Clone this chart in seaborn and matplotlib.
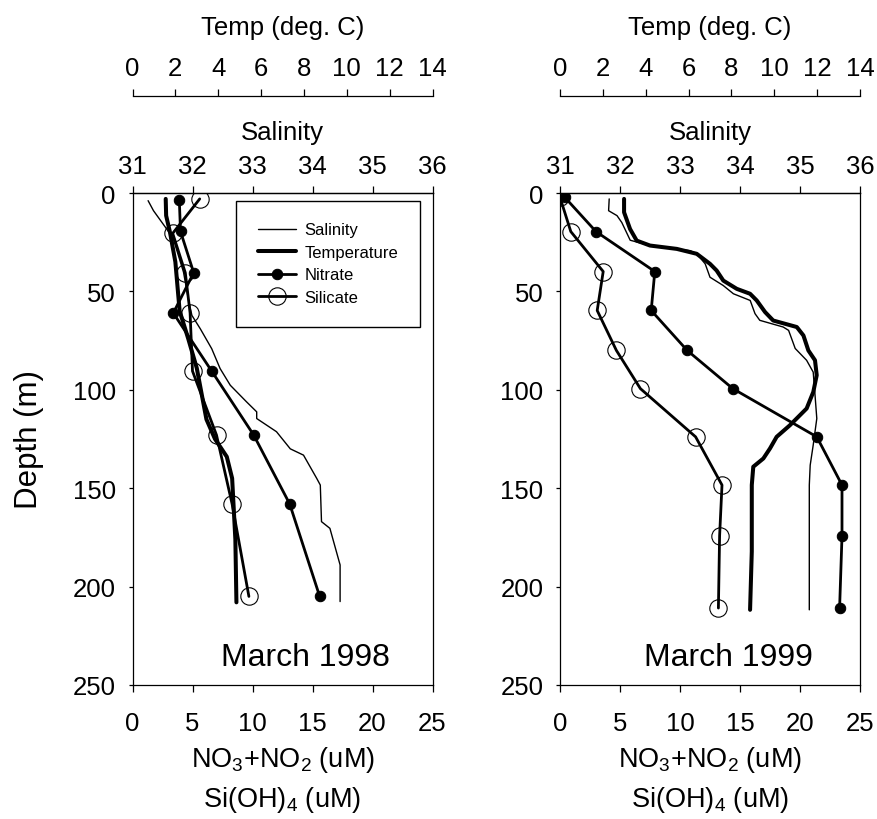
import matplotlib
matplotlib.use("Agg")
import matplotlib.pyplot as plt
import seaborn as sns

sns.set_style("ticks")
plt.rcParams["font.family"] = ["Liberation Sans", "DejaVu Sans"]
plt.rcParams["mathtext.default"] = "regular"
for k in ("text.color", "axes.labelcolor", "xtick.color", "ytick.color", "axes.edgecolor"):
    plt.rcParams[k] = "black"

# ---------------- data: March 1998 ----------------
nit98_depth = [3.5, 19.5, 40.5, 61, 90.5, 123, 158, 205]
nit98 = [3.9, 4.0, 5.1, 3.4, 6.6, 10.1, 13.1, 15.6]
sil98_depth = [3, 20.5, 40.5, 61, 90.5, 123, 158, 205]
sil98 = [5.6, 3.35, 4.4, 4.8, 5.0, 7.0, 8.3, 9.7]
temp98_depth = [3, 11.5, 20, 35, 60, 74, 89, 115, 125, 134, 145, 176, 208]
temp98 = [1.55, 1.57, 1.75, 2.0, 2.2, 2.6, 3.0, 3.45, 3.85, 4.4, 4.65, 4.8, 4.85]
sal98_depth = [3.9, 9.0, 18.3, 23.3, 40.2, 53.8, 62.2, 69, 79.1, 89.2, 97.7, 106.1,
               111.2, 114.6, 121.3, 130, 133.2, 145, 148.4, 167, 170.4, 189, 207.6]
sal98 = [31.26, 31.35, 31.57, 31.68, 31.85, 31.93, 31.99, 32.13, 32.32, 32.46, 32.63,
         32.90, 33.07, 33.07, 33.40, 33.63, 33.85, 34.07, 34.13, 34.15, 34.29, 34.46, 34.46]

# ---------------- data: March 1999 ----------------
nit99_depth = [2.2, 19.6, 39.9, 59.7, 80, 99.4, 123.9, 148.4, 174.3, 210.9]
nit99 = [0.4, 3.0, 7.9, 7.6, 10.6, 14.4, 21.4, 23.5, 23.5, 23.3]
sil99_depth = [2.2, 19.6, 39.9, 59.7, 80, 99.4, 123.9, 148.4, 174.3, 210.9]
sil99 = [0.0, 0.9, 3.6, 3.1, 4.7, 6.7, 11.3, 13.5, 13.3, 13.2]
temp99_depth = [3.0, 9.8, 18.3, 24.2, 26.7, 28.4, 30.9, 36.0, 39.4, 44.5, 48.7, 51.2,
                54.6, 60.5, 64.8, 68.1, 72.4, 80.0, 85.0, 92.6, 101.1, 109.5, 118.0,
                123.9, 129.8, 134.9, 139.1, 148.4, 182.2, 211.8]
temp99 = [2.99, 2.99, 3.27, 3.58, 4.2, 5.45, 6.38, 7.0, 7.31, 7.62, 8.25, 8.87,
          9.18, 9.57, 9.95, 11.05, 11.36, 11.59, 11.9, 11.98, 11.82, 11.51, 10.73,
          10.11, 9.8, 9.49, 9.02, 8.95, 8.95, 8.87]
sal99_depth = [3.0, 9.0, 11.5, 15.0, 24.0, 26.7, 29.3, 30.9, 36.0, 42.8, 47.0, 51.2,
               54.6, 61.3, 64.7, 68.1, 69.8, 79.0, 85.0, 91.0, 102.5, 114.6, 128.1,
               138.3, 148.4, 211.8]
sal99 = [31.82, 31.81, 31.95, 32.03, 32.17, 32.5, 33.17, 33.28, 33.42, 33.5, 33.72,
         33.89, 34.17, 34.25, 34.33, 34.72, 34.81, 34.92, 35.11, 35.22, 35.25, 35.28,
         35.22, 35.17, 35.155, 35.155]

titles = ["March 1998", "March 1999"]
title_x = [14.4, 14.0]
panels = [
    (nit98_depth, nit98, sil98_depth, sil98, temp98_depth, temp98, sal98_depth, sal98),
    (nit99_depth, nit99, sil99_depth, sil99, temp99_depth, temp99, sal99_depth, sal99),
]

nut_ticks = [0, 5, 10, 15, 20, 25]
sal_ticks = [31, 32, 33, 34, 35, 36]
temp_ticks = [0, 2, 4, 6, 8, 10, 12, 14]
depth_ticks = [0, 50, 100, 150, 200, 250]

W, H = 877, 820
fig = plt.figure(figsize=(W / 100, H / 100), dpi=100)
lefts = [132.5, 560]
FS = 18.5
LFS = 18.5
lw_spine = 0.9

for i, (nd, nv, sd, sv, td, tv, sald, salv) in enumerate(panels):
    ax = fig.add_axes([lefts[i] / W, (H - 686) / H, 300 / W, 492 / H])
    ax_sal = ax.twiny()
    ax_temp = ax.twiny()

    # salinity (thin)
    sns.lineplot(x=salv, y=sald, ax=ax_sal, sort=False, estimator=None, color="black",
                 lw=1.0, label="Salinity", legend=False)
    # temperature (thick)
    sns.lineplot(x=tv, y=td, ax=ax_temp, sort=False, estimator=None, color="black",
                 lw=2.9, label="Temperature", legend=False)
    # nitrate
    sns.lineplot(x=nv, y=nd, ax=ax, sort=False, estimator=None, color="black",
                 lw=2.0, marker="o", markersize=7.5, markerfacecolor="black",
                 markeredgecolor="black", label="Nitrate", legend=False)
    # silicate
    sns.lineplot(x=sv, y=sd, ax=ax, sort=False, estimator=None, color="black",
                 lw=2.0, marker="o", markersize=12.5, markerfacecolor="none",
                 markeredgecolor="black", markeredgewidth=0.8, label="Silicate", legend=False)

    # main axis: nutrients / depth
    ax.set_xlim(0, 25)
    ax.set_ylim(250, 0)
    ax.set_xticks(nut_ticks)
    ax.set_yticks(depth_ticks)
    ax.tick_params(axis="x", direction="out", length=5, width=lw_spine, labelsize=FS, pad=14,
                   bottom=True, top=False)
    ax.tick_params(axis="y", direction="out", length=3, width=lw_spine, labelsize=FS, pad=9)
    ax.set_xlabel("NO$_3$+NO$_2$ (uM)\nSi(OH)$_4$ (uM)", fontsize=19.5, labelpad=6,
                  linespacing=1.45)
    if i == 0:
        ax.set_ylabel("Depth (m)", fontsize=22.5, labelpad=21)
    else:
        ax.set_ylabel("")
    for s in ax.spines.values():
        s.set_visible(True)
        s.set_linewidth(lw_spine)

    # salinity axis (top spine)
    ax_sal.set_xlim(31, 36)
    ax_sal.set_xticks(sal_ticks)
    ax_sal.xaxis.set_ticks_position("top")
    ax_sal.xaxis.set_label_position("top")
    ax_sal.tick_params(axis="x", direction="out", length=5, width=lw_spine, labelsize=FS, pad=6)
    ax_sal.set_xlabel("Salinity", fontsize=LFS, labelpad=10.5)
    for k, s in ax_sal.spines.items():
        s.set_visible(k == "top")
        s.set_linewidth(lw_spine)

    # temperature axis (offset top spine)
    ax_temp.set_xlim(0, 14)
    ax_temp.set_xticks(temp_ticks)
    ax_temp.xaxis.set_ticks_position("top")
    ax_temp.xaxis.set_label_position("top")
    ax_temp.spines["top"].set_position(("outward", 70))
    ax_temp.tick_params(axis="x", direction="out", length=5, width=lw_spine, labelsize=FS, pad=6)
    ax_temp.set_xlabel("Temp (deg. C)", fontsize=LFS, labelpad=16)
    for k, s in ax_temp.spines.items():
        s.set_visible(k == "top")
        s.set_linewidth(lw_spine)

    ax.set_ylim(250, 0)
    ax.text(title_x[i], 239.7, titles[i], fontsize=23, ha="center", va="baseline")

    if i == 0:
        handles, labels = [], []
        for a in (ax_sal, ax_temp, ax):
            h, l = a.get_legend_handles_labels()
            handles += h
            labels += l
        leg = ax_temp.legend(handles, labels, loc="upper right",
                             bbox_to_anchor=((420 - 132.5) / 300, (686 - 201.7) / 492),
                             borderaxespad=0, fontsize=12, frameon=True, fancybox=False,
                             edgecolor="black", handlelength=2.3, handletextpad=0.5,
                             labelspacing=0.45, borderpad=1.3)
        leg.get_frame().set_linewidth(1.0)
        leg.get_frame().set_alpha(1)

fig.savefig("out.png", dpi=100)
